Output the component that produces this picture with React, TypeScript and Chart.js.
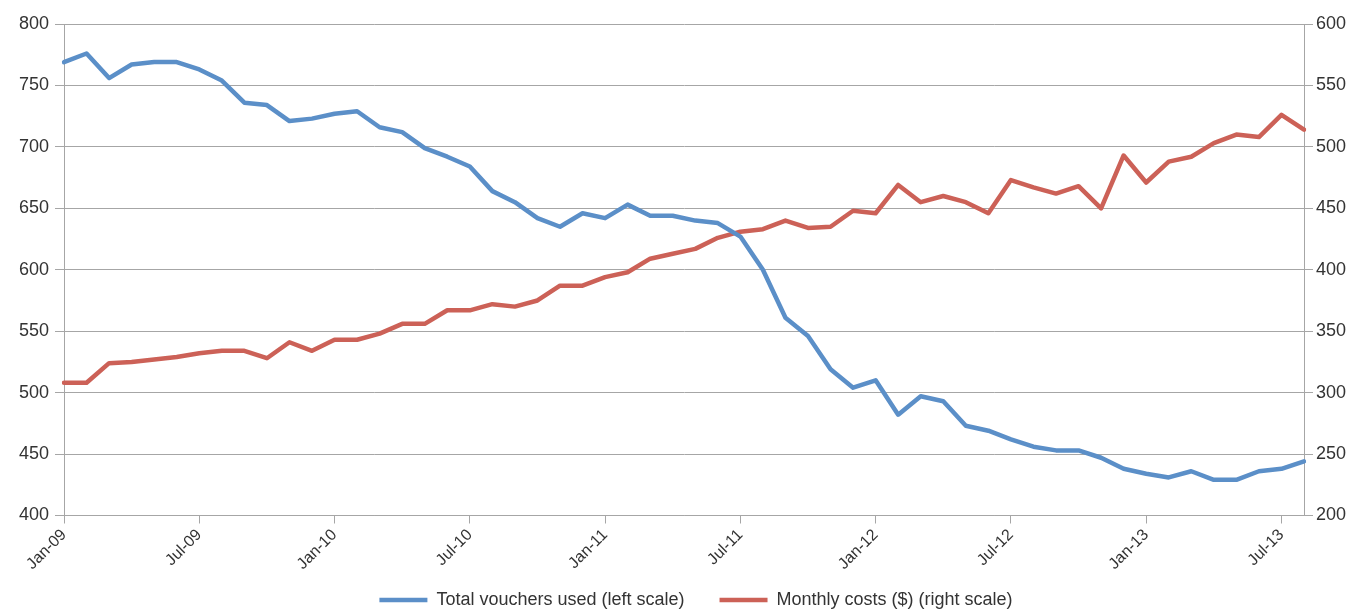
import React, { useEffect, useRef } from "react";
import { Chart, registerables } from "chart.js";

Chart.register(...registerables);

const months = [
  "Jan-09","Feb-09","Mar-09","Apr-09","May-09","Jun-09","Jul-09","Aug-09","Sep-09","Oct-09","Nov-09","Dec-09",
  "Jan-10","Feb-10","Mar-10","Apr-10","May-10","Jun-10","Jul-10","Aug-10","Sep-10","Oct-10","Nov-10","Dec-10",
  "Jan-11","Feb-11","Mar-11","Apr-11","May-11","Jun-11","Jul-11","Aug-11","Sep-11","Oct-11","Nov-11","Dec-11",
  "Jan-12","Feb-12","Mar-12","Apr-12","May-12","Jun-12","Jul-12","Aug-12","Sep-12","Oct-12","Nov-12","Dec-12",
  "Jan-13","Feb-13","Mar-13","Apr-13","May-13","Jun-13","Jul-13","Aug-13",
];

const vouchers = [
  769, 776, 756, 767, 769, 769, 763, 754, 736, 734, 721, 723,
  727, 729, 716, 712, 699, 692, 684, 664, 655, 642, 635, 646,
  642, 653, 644, 644, 640, 638, 627, 600, 561, 546, 519, 504,
  510, 482, 497, 493, 473, 469, 462, 456, 453, 453, 447, 438,
  434, 431, 436, 429, 429, 436, 438, 444,
];

const costs = [
  308, 308, 324, 325, 327, 329, 332, 334, 334, 328, 341, 334,
  343, 343, 348, 356, 356, 367, 367, 372, 370, 375, 387, 387,
  394, 398, 409, 413, 417, 426, 431, 433, 440, 434, 435, 448,
  446, 469, 455, 460, 455, 446, 473, 467, 462, 468, 450, 493,
  471, 488, 492, 503, 510, 508, 526, 514,
];

const seriesNames = ["Total vouchers used (left scale)", "Monthly costs ($) (right scale)"];

const BLUE = "#5B8FC8";
const RED = "#CC6157";
const GRID = "#A6A6A6";
const TEXT = "#333333";
const FONT = "'Liberation Sans', Arial, sans-serif";

const legendShift = {
  id: "legendShift",
  afterLayout(chart: any) {
    if (chart.legend) chart.legend.left += 41;
  },
};

export default function App() {
  const ref = useRef<HTMLCanvasElement | null>(null);

  useEffect(() => {
    document.body.style.margin = "0";
    document.body.style.overflow = "hidden";
    if (!ref.current) return;
    const chart = new Chart(ref.current, {
      type: "line",
      data: {
        labels: months,
        datasets: [
          {
            label: seriesNames[0],
            data: vouchers,
            borderColor: BLUE,
            backgroundColor: BLUE,
            borderWidth: 4.5,
            pointRadius: 0,
            tension: 0,
            borderCapStyle: "round",
            borderJoinStyle: "round",
            yAxisID: "y",
          },
          {
            label: seriesNames[1],
            data: costs,
            borderColor: RED,
            backgroundColor: RED,
            borderWidth: 4.5,
            pointRadius: 0,
            tension: 0,
            borderCapStyle: "round",
            borderJoinStyle: "round",
            yAxisID: "y1",
          },
        ],
      },
      plugins: [legendShift],
      options: {
        animation: false,
        responsive: true,
        maintainAspectRatio: false,
        layout: { padding: { top: 24, left: 0, right: 0, bottom: 0 } },
        plugins: {
          tooltip: { enabled: false },
          legend: {
            position: "bottom",
            labels: {
              usePointStyle: true,
              pointStyle: "line",
              pointStyleWidth: 48,
              color: TEXT,
              font: { family: FONT, size: 18 },
              padding: 35,
            },
          },
        },
        scales: {
          x: {
            type: "category",
            offset: false,
            grid: {
              display: true,
              drawOnChartArea: false,
              drawTicks: true,
              tickLength: 8,
              color: GRID,
            },
            border: { display: true, color: GRID },
            ticks: {
              autoSkip: false,
              minRotation: 45,
              maxRotation: 45,
              color: TEXT,
              font: { family: FONT, size: 16 },
              padding: 2,
              callback: (_v: any, i: number) => (i % 6 === 0 ? months[i] : null),
            },
            afterFit: (s: any) => {
              s.height = 40.5;
              s._computeLabelArea = () => undefined;
            },
          },
          y: {
            position: "left",
            min: 400,
            max: 800,
            ticks: { stepSize: 50, color: TEXT, font: { family: FONT, size: 18 }, padding: 6 },
            grid: { color: GRID, tickLength: 9, lineWidth: 1 },
            border: { display: true, color: GRID },
            afterFit: (s: any) => { s.width = 64; },
          },
          y1: {
            position: "right",
            min: 200,
            max: 600,
            ticks: { stepSize: 50, color: TEXT, font: { family: FONT, size: 18 }, padding: 3 },
            grid: { drawOnChartArea: false, color: GRID, tickLength: 9 },
            border: { display: true, color: GRID },
            afterFit: (s: any) => { s.width = 47; },
          },
        },
      },
    });
    return () => chart.destroy();
  }, []);

  return (
    <div style={{ width: 1351, height: 609, overflow: "hidden", position: "relative" }}>
      <div style={{ width: 1351, height: 619, position: "absolute", left: 0, top: 0 }}>
        <canvas ref={ref} />
      </div>
    </div>
  );
}
